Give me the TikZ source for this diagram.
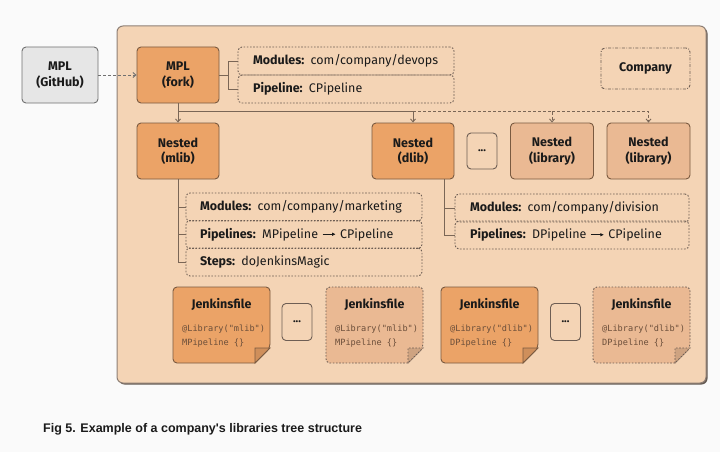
\documentclass[tikz,border=0pt]{standalone}
\usepackage{fontspec}
\setmainfont{Fira Sans}
\newfontfamily\jmono{DejaVu Sans Mono}
\newfontfamily\capfont{Liberation Sans}
\usetikzlibrary{arrows.meta,calc}
\definecolor{bgc}{HTML}{FAFAFA}
\definecolor{contc}{HTML}{F4D4B5}
\definecolor{contedge}{HTML}{8E7F75}
\definecolor{orangec}{HTML}{EBA367}
\definecolor{lightc}{HTML}{EAB993}
\definecolor{ghc}{HTML}{E6E6E6}
\definecolor{ghedge}{HTML}{707070}
\definecolor{edgec}{HTML}{7A5A40}
\definecolor{dotedge}{HTML}{6E5E54}
\definecolor{linec}{HTML}{7A6656}
\definecolor{txt}{HTML}{1A1A1A}
\definecolor{codec}{HTML}{6B4E3A}
\newcommand\tarrow{\tikz[baseline=-0.6ex,x=1pt,y=1pt]\draw[-{Latex[length=3.5pt,width=3.5pt]},line width=0.7pt,txt] (0,0)--(13,0);}
\newcommand\jenk[6]{%
  \filldraw[#4, fill=#3] (#2+82,363) [rounded corners=4pt] -- (#2,363) -- (#2,287) -- (#2+97,287) -- (#2+97,348) [sharp corners] -- cycle;
  \filldraw[#4, fill=#3!88!black] (#2+82,363) -- (#2+82,348) -- (#2+97,348) -- cycle;
  \node[jtitle] (#1) at (#2+48.5,304) {Jenkinsfile};
  \node[jcode, anchor=west] (#1c) at (#2+9,336) {#5\\#6};
}
\begin{document}
\begin{tikzpicture}[x=1pt,y=-1pt,
 base/.style={draw=edgec, line width=0.9pt, rounded corners=4pt, align=center, inner sep=0pt, font=\fontsize{12.5}{15.5}\selectfont\bfseries, text=txt},
 mainbox/.style={base, fill=orangec, minimum width=82pt, minimum height=56pt},
 libbox/.style={base, fill=lightc, minimum width=83pt, minimum height=56pt},
 ghbox/.style={base, fill=ghc, draw=ghedge, minimum width=76pt, minimum height=56pt},
 dotsbox/.style={base, fill=contc, draw=dotedge, minimum width=30pt, minimum height=37pt, font=\fontsize{11}{13}\selectfont\bfseries},
 infobox/.style={draw=dotedge, line width=0.9pt, dash pattern=on 1.6pt off 1.6pt, rounded corners=4pt, minimum height=28pt, inner xsep=15pt, inner ysep=0pt, align=left, font=\fontsize{12.5}{15}\selectfont, text=txt},
 compbox/.style={draw=dotedge, line width=0.9pt, dash pattern=on 3pt off 1.5pt on 0.8pt off 1.5pt, rounded corners=4pt, minimum width=89pt, minimum height=41pt, font=\fontsize{12.5}{15}\selectfont\bfseries, text=txt},
 conn/.style={draw=linec, line width=0.9pt},
 tip/.style={-{Straight Barb[length=3pt,width=5pt]}},
 jtitle/.style={font=\fontsize{12.5}{15}\selectfont\bfseries, text=txt, inner sep=0pt},
 jcode/.style={font=\jmono\fontsize{8.6}{14}\selectfont, text=codec, align=left, inner sep=0pt},
 jsolid/.style={draw=edgec, line width=0.9pt},
 jdot/.style={draw=dotedge, line width=0.9pt, dash pattern=on 1.6pt off 1.6pt},
]
\useasboundingbox[fill=bgc] (0,0) rectangle (720,452);
% container
\fill[contedge!70!black, rounded corners=6pt] (118.5,27.5) rectangle (707.5,384.5);
\node[draw=contedge, fill=contc, line width=1pt, rounded corners=6pt, minimum width=589pt, minimum height=357pt, inner sep=0pt] (ct) at (411.5,204.5) {};
% top row
\node[ghbox] (gh) at (60,75) {MPL\\(GitHub)};
\node[mainbox] (fork) at (178,75) {MPL\\(fork)};
\node[infobox, text width=186pt] (fmod) at (346,61) {\textbf{Modules:} com/company/devops};
\node[infobox, text width=186pt] (fpipe) at (346,89) {\textbf{Pipeline:} CPipeline};
\node[compbox] (comp) at (645.5,68.5) {Company};
% second row
\node[mainbox] (mlib) at (178,151) {Nested\\(mlib)};
\node[mainbox] (dlib) at (413,151) {Nested\\(dlib)};
\node[dotsbox, minimum height=36pt] (dots1) at (482,151) {...};
\node[libbox] (lib1) at (552,151) {Nested\\(library)};
\node[libbox] (lib2) at (648.5,151) {Nested\\(library)};
% info boxes
\node[infobox, inner xsep=14pt, text width=208pt] (mmod) at (304,207) {\textbf{Modules:} com/company/marketing};
\node[infobox, inner xsep=14pt, text width=208pt] (mpipe) at (304,234.5) {\textbf{Pipelines:} MPipeline \tarrow\ CPipeline};
\node[infobox, inner xsep=14pt, text width=208pt] (msteps) at (304,262) {\textbf{Steps:} doJenkinsMagic};
\node[infobox, text width=204pt] (dmod) at (572,208) {\textbf{Modules:} com/company/division};
\node[infobox, text width=204pt] (dpipe) at (572,235) {\textbf{Pipelines:} DPipeline \tarrow\ CPipeline};
% jenkinsfiles
\jenk{j1}{173}{orangec}{jsolid}{@Library("mlib")}{MPipeline \{\}}
\node[dotsbox] (dots2) at (297,322) {...};
\jenk{j2}{326}{lightc}{jdot}{@Library("mlib")}{MPipeline \{\}}
\jenk{j3}{441}{orangec}{jsolid}{@Library("dlib")}{DPipeline \{\}}
\node[dotsbox] (dots3) at (565.5,322) {...};
\jenk{j4}{593}{lightc}{jdot}{@Library("dlib")}{DPipeline \{\}}
% connectors
\draw[conn, draw=ghedge, dash pattern=on 3pt off 2pt, tip] (gh.east) -- (fork.west);
\draw[conn] (fork.east) -- ++(9,0) |- (fmod.west);
\draw[conn] (fork.east) -- ++(9,0) |- (fpipe.west);
\coordinate (hub) at (178,111);
\draw[conn, tip] (fork.south) -- (mlib.north);
\draw[conn, tip] (fork.south |- hub) -| (dlib.north);
\draw[conn, dash pattern=on 3pt off 2pt, tip] (dlib.north |- hub) -| (lib1.north);
\draw[conn, dash pattern=on 3pt off 2pt, tip] (lib1.north |- hub) -| (lib2.north);
\draw[conn] (mlib.south) |- (mmod.west);
\draw[conn] (mlib.south) |- (mpipe.west);
\draw[conn] (mlib.south) |- (msteps.west);
\coordinate (dj) at ($(dlib.south east)+(-10,0)$);
\draw[conn] (dj) |- (dmod.west);
\draw[conn] (dj) |- (dpipe.west);
% caption
\node[font=\capfont\bfseries\fontsize{12.5}{14}\selectfont, text=txt, anchor=west, inner sep=0pt] (cap) at (43,429) {Fig 5. Example of a company\textquotesingle s libraries tree structure};
\end{tikzpicture}
\end{document}
